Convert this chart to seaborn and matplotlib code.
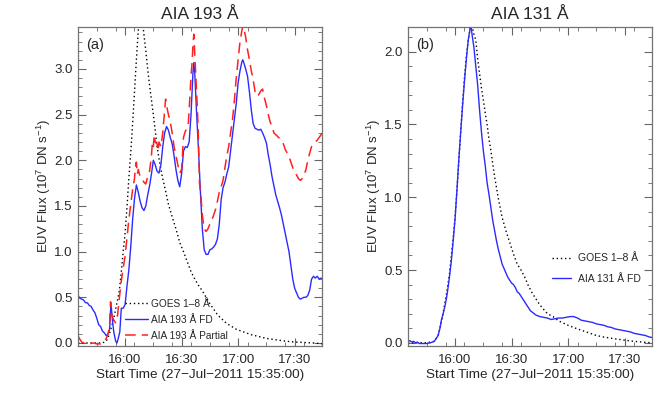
import numpy as np
import pandas as pd
import matplotlib
matplotlib.use('Agg')
import matplotlib.pyplot as plt
from matplotlib.ticker import MultipleLocator
import seaborn as sns

# --- data (minutes after 15:35:00, flux in 1e7 DN/s) ---
t_fd193 = [0, 1, 2, 3, 4, 5, 6, 7, 8, 9, 10, 11, 12, 13, 14, 15, 16, 16.8, 17.5, 18.3, 19, 20, 20.7,
           21.5, 22.2, 23, 24, 25, 26, 27, 28, 29, 30, 31, 32, 33, 34, 35, 36, 37, 38, 39, 40, 41,
           42, 43, 44, 45, 46, 47, 48, 49, 50, 51, 52, 53, 54, 55, 56, 57, 58, 59, 60, 61, 61.5, 62,
           63, 64, 65, 66, 67, 68, 69, 70, 71, 72, 73, 74, 75, 76, 77, 78, 79, 80, 81, 82, 83, 84,
           85, 86, 87, 87.5, 88, 89, 90, 91, 92, 93, 94, 95, 96, 97, 98, 99, 100, 101, 102, 103,
           104, 105, 106, 107, 108, 109, 110, 111, 112, 113, 114, 115, 116, 117, 118, 119, 120, 121,
           122, 123, 124, 125, 126, 127, 128, 129, 130]
fd193 = [0.52, 0.49, 0.48, 0.47, 0.44, 0.44, 0.41, 0.40, 0.36, 0.33, 0.27, 0.20, 0.18, 0.13, 0.11,
         0.08, 0.10, 0.15, 0.44, 0.25, 0.12, 0.02, 0.0, 0.06, 0.12, 0.38, 0.38, 0.42, 0.62, 0.80,
         1.05, 1.35, 1.58, 1.73, 1.65, 1.55, 1.48, 1.45, 1.50, 1.62, 1.72, 1.85, 2.00, 1.95, 1.88,
         1.86, 1.95, 2.15, 2.30, 2.37, 2.33, 2.25, 2.18, 2.05, 1.90, 1.78, 1.71, 1.85, 2.10, 2.15,
         2.14, 2.20, 2.50, 2.95, 3.07, 2.95, 2.50, 2.10, 1.65, 1.25, 1.02, 0.97, 0.97, 1.02, 1.03,
         1.05, 1.08, 1.14, 1.30, 1.57, 1.70, 1.76, 1.85, 1.93, 2.10, 2.28, 2.44, 2.62, 2.85, 2.98,
         3.08, 3.10, 3.07, 3.00, 2.92, 2.75, 2.55, 2.40, 2.35, 2.34, 2.33, 2.34, 2.30, 2.25, 2.19,
         2.06, 1.95, 1.82, 1.72, 1.62, 1.55, 1.48, 1.40, 1.30, 1.20, 1.10, 1.00, 0.85, 0.70, 0.60,
         0.55, 0.50, 0.48, 0.49, 0.50, 0.50, 0.52, 0.58, 0.70, 0.73, 0.71, 0.73, 0.70, 0.71, 0.70]

t_part193 = [0, 1, 2, 3, 4, 5, 6, 8, 10, 12, 13, 14, 15, 16, 16.8, 17.3, 18, 19, 20, 21, 22, 23, 24,
             25, 26, 27, 28, 29, 30, 30.5, 31, 31.5, 32, 33, 34, 35, 36, 37, 38, 39, 39.5, 40, 40.5,
             41, 42, 42.5, 43, 44, 45, 46, 46.5, 47, 47.5, 48, 49, 50, 51, 52, 53, 54, 55, 56, 57,
             58, 58.5, 59, 60, 60.5, 61, 61.5, 62, 62.5, 63.5, 64, 64.5, 65.3, 66, 67, 68, 69, 70,
             71, 72, 73, 74, 75, 76, 77, 78, 79, 80, 81, 82, 83, 84, 85, 86, 87, 87.5, 88, 89, 90,
             91, 92, 93, 94, 95, 96, 97, 98, 99, 100, 101, 102, 103, 104, 105, 106, 107, 108, 109,
             110, 111, 112, 113, 114, 115, 116, 117, 118, 119, 120, 121, 122, 123, 124, 125, 126,
             127, 128, 129, 130]
part193 = [0.08, 0.04, 0.01, 0.0, -0.01, 0.0, -0.01, 0.0, -0.01, -0.01, 0.0, 0.02, 0.05, 0.10, 0.20,
           0.45, 0.30, 0.25, 0.22, 0.30, 0.50, 0.68, 0.82, 0.95, 1.15, 1.35, 1.52, 1.68, 1.80, 1.93,
           1.98, 1.85, 1.90, 1.82, 1.80, 1.76, 1.74, 1.82, 1.88, 2.05, 2.20, 2.15, 2.28, 2.20, 2.18,
           2.10, 2.20, 2.15, 2.30, 2.55, 2.67, 2.60, 2.55, 2.50, 2.42, 2.30, 2.15, 2.05, 1.95, 1.86,
           1.90, 2.25, 2.32, 2.35, 2.38, 2.55, 2.92, 3.05, 3.25, 3.38, 3.15, 2.95, 2.50, 2.20, 1.75,
           1.60, 1.40, 1.25, 1.22, 1.25, 1.30, 1.34, 1.40, 1.46, 1.55, 1.65, 1.71, 1.78, 1.92, 2.05,
           2.15, 2.30, 2.44, 2.65, 2.90, 3.10, 3.30, 3.42, 3.47, 3.45, 3.35, 3.21, 3.10, 2.98, 2.88,
           2.75, 2.70, 2.72, 2.76, 2.78, 2.68, 2.60, 2.50, 2.42, 2.37, 2.30, 2.28, 2.26, 2.24, 2.22,
           2.18, 2.12, 2.08, 2.04, 1.98, 1.92, 1.87, 1.84, 1.80, 1.78, 1.80, 1.84, 1.90, 2.00, 2.08,
           2.15, 2.18, 2.20, 2.22, 2.25, 2.28, 2.30]

t_goes_a = [0, 5, 10, 13, 15, 16, 17, 18, 19, 20, 21, 22, 23, 24, 25, 26, 27, 28, 29, 30, 31, 32, 33,
            34, 35, 36, 37, 38, 39, 40, 41, 42, 43, 44, 45, 46, 48, 50, 52, 54, 56, 58, 60, 62, 64,
            66, 68, 70, 72, 74, 76, 78, 80, 84, 88, 92, 96, 100, 105, 110, 115, 120, 125, 130]
goes_a = [0.0, 0.0, 0.0, 0.0, 0.02, 0.06, 0.12, 0.19, 0.27, 0.37, 0.47, 0.58, 0.78, 1.00, 1.20, 1.48,
          1.80, 2.08, 2.40, 2.75, 3.10, 3.42, 3.60, 3.58, 3.38, 3.20, 3.00, 2.82, 2.66, 2.50, 2.33,
          2.15, 2.02, 1.90, 1.80, 1.71, 1.52, 1.38, 1.25, 1.10, 1.00, 0.89, 0.78, 0.70, 0.63, 0.57,
          0.50, 0.43, 0.37, 0.31, 0.27, 0.23, 0.20, 0.15, 0.12, 0.09, 0.07, 0.05, 0.035, 0.02, 0.01,
          0.005, 0.0, -0.01]

t_fd131 = [0, 1, 2, 3, 4, 5, 6, 8, 10, 12, 13, 14, 15, 16, 17, 17.8, 18.5, 19.6, 20.5, 21.3, 22, 23,
           24, 25, 26, 27, 28, 29, 30, 31, 32, 33, 33.5, 34, 35, 36, 37, 38, 39, 40, 41, 42, 43, 44,
           45, 46, 47, 48, 49, 50, 51, 52, 53, 54, 55, 56, 57, 58, 59, 60, 61, 62, 63, 64, 65, 66,
           67, 68, 70, 72, 74, 76, 78, 80, 82, 84, 86, 88, 90, 92, 94, 96, 98, 100, 102, 104, 106,
           108, 110, 112, 114, 116, 118, 120, 122, 124, 126, 128, 130]
fd131 = [0.01, 0.015, 0.005, 0.01, 0.0, 0.005, -0.005, -0.005, -0.005, 0.0, 0.005, 0.01, 0.03, 0.05,
         0.10, 0.16, 0.19, 0.25, 0.31, 0.38, 0.45, 0.56, 0.70, 0.85, 1.05, 1.26, 1.45, 1.63, 1.80,
         1.95, 2.08, 2.16, 2.17, 2.12, 2.03, 1.90, 1.77, 1.60, 1.45, 1.32, 1.22, 1.10, 1.02, 0.93,
         0.84, 0.77, 0.70, 0.64, 0.59, 0.54, 0.51, 0.48, 0.45, 0.43, 0.41, 0.40, 0.38, 0.35, 0.34,
         0.32, 0.30, 0.28, 0.26, 0.24, 0.22, 0.21, 0.20, 0.19, 0.18, 0.175, 0.17, 0.16, 0.165, 0.17,
         0.17, 0.175, 0.18, 0.18, 0.17, 0.155, 0.15, 0.145, 0.14, 0.13, 0.125, 0.12, 0.11, 0.105,
         0.095, 0.09, 0.085, 0.08, 0.075, 0.065, 0.06, 0.055, 0.05, 0.04, 0.035]

t_goes_b = [0, 10, 14, 16, 18, 20, 22, 24, 25, 26, 27, 28, 29, 30, 31, 32, 33, 34, 35, 36, 37, 38, 39,
            40, 41, 42, 43, 44, 45, 46, 48, 50, 52, 54, 56, 58, 60, 62, 64, 66, 68, 70, 72, 74, 77,
            80, 85, 90, 95, 100, 105, 110, 115, 120, 125, 130]
goes_b = [0.0, 0.0, 0.01, 0.05, 0.16, 0.30, 0.47, 0.72, 0.86, 1.05, 1.25, 1.45, 1.65, 1.82, 1.97,
          2.08, 2.16, 2.18, 2.12, 2.08, 1.95, 1.85, 1.75, 1.67, 1.58, 1.50, 1.40, 1.32, 1.23, 1.14,
          0.99, 0.86, 0.77, 0.69, 0.61, 0.54, 0.50, 0.45, 0.39, 0.34, 0.30, 0.26, 0.23, 0.20, 0.18,
          0.15, 0.12, 0.095, 0.073, 0.05, 0.037, 0.027, 0.018, 0.01, 0.004, 0.0]

tick_pos = [25, 55, 85, 115]
tick_labels = ['16:00', '16:30', '17:00', '17:30']

sns.set_style('ticks')
plt.rcParams['font.family'] = ['Liberation Sans', 'DejaVu Sans']
plt.rcParams['mathtext.fontset'] = 'custom'
plt.rcParams['mathtext.rm'] = 'Liberation Sans'
plt.rcParams['mathtext.it'] = 'Liberation Sans'

fig = plt.figure(figsize=(6.58, 3.94), dpi=100)
ax_a = fig.add_axes([0.1185, 0.1226, 0.3708, 0.809])
ax_b = fig.add_axes([0.620, 0.1226, 0.3708, 0.809])

goes_style = dict(color='black', linestyle=(0, (1, 2)), linewidth=1.0)

sns.lineplot(x=t_goes_a, y=goes_a, ax=ax_a, label='GOES 1\u20138 \u00c5', **goes_style)
sns.lineplot(x=t_fd193, y=fd193, ax=ax_a, color='#2b2bff', linewidth=1.0, label='AIA 193 \u00c5 FD')
sns.lineplot(x=t_part193, y=part193, ax=ax_a, color='#ff2020', linewidth=1.1,
             linestyle=(0, (7, 4)), label='AIA 193 \u00c5 Partial')

sns.lineplot(x=t_goes_b, y=goes_b, ax=ax_b, label='GOES 1\u20138 \u00c5', **goes_style)
sns.lineplot(x=t_fd131, y=fd131, ax=ax_b, color='#2b2bff', linewidth=1.0, label='AIA 131 \u00c5 FD')

ax_a.set_ylim(-0.03, 3.46)
ax_b.set_ylim(-0.02, 2.17)

for ax, title, tag in [(ax_a, 'AIA 193 \u00c5', '(a)'), (ax_b, 'AIA 131 \u00c5', '(b)')]:
    ax.set_xlim(0, 129.5)
    ax.set_xticks(tick_pos)
    ax.set_xticklabels(tick_labels)
    ax.xaxis.set_minor_locator(MultipleLocator(10))
    ax.yaxis.set_major_locator(MultipleLocator(0.5))
    ax.yaxis.set_minor_locator(MultipleLocator(0.1))
    ax.yaxis.set_major_formatter(matplotlib.ticker.FormatStrFormatter('%.1f'))
    ax.tick_params(which='both', direction='in', top=True, right=True, color='0.4',
                   labelsize=9.5)
    ax.tick_params(axis='x', pad=6)
    ax.tick_params(axis='y', pad=4)
    ax.tick_params(which='major', length=6, width=0.8)
    ax.tick_params(which='minor', length=3, width=0.6)
    for sp in ax.spines.values():
        sp.set_color('0.45')
        sp.set_linewidth(0.9)
    ax.set_title(title, fontsize=12.5, pad=6)
    ax.set_xlabel('Start Time (27\u2212Jul\u22122011 15:35:00)', fontsize=9.7, labelpad=2)
    ax.set_ylabel('EUV Flux (10$^7$ DN s$^{-1}$)', fontsize=9.5, labelpad=1)
    ax.text(0.035, 0.965, tag, transform=ax.transAxes, ha='left', va='top', fontsize=10.5)

leg_a = ax_a.legend(loc='lower left', bbox_to_anchor=(0.16, -0.01), fontsize=7.3, frameon=False,
                    handlelength=2.3, handletextpad=0.25, labelspacing=0.6, borderpad=0.3)

leg_b = ax_b.legend(loc='lower left', bbox_to_anchor=(0.55, 0.165), fontsize=7.5, frameon=False,
                    handlelength=1.9, handletextpad=0.6, labelspacing=1.0)

fig.savefig('out.png', dpi=100)
